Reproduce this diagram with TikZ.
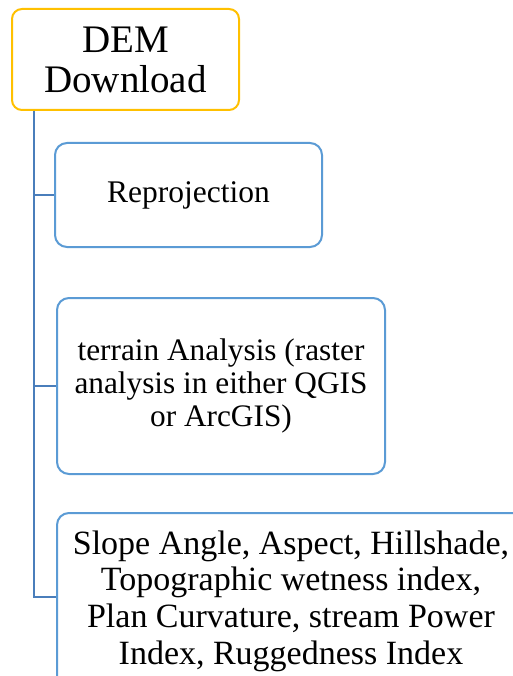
\documentclass[tikz,border=0pt]{standalone}
\usepackage{fontspec}
\setmainfont{Liberation Serif}
\definecolor{rootc}{HTML}{FFC000}
\definecolor{boxc}{HTML}{5B9BD5}
\definecolor{trunkc}{HTML}{4A7EBB}
\tikzset{
  rootbox/.style={draw=rootc, line width=2pt, rounded corners=10pt, fill=white,
    minimum width=227pt, minimum height=101pt, inner sep=0pt, align=center,
    font=\fontsize{39}{40}\selectfont},
  childbox/.style={draw=boxc, line width=2pt, rounded corners=12pt, fill=white,
    inner sep=0pt, align=center},
  trunk/.style={draw=trunkc, line width=2.4pt}
}
\begin{document}
\begin{tikzpicture}[x=1pt,y=-1pt]
\clip (0,0) rectangle (513,676);
\fill[white] (0,0) rectangle (513,676);
\node[rootbox] (dem) at (125.5,59.5) {DEM\\Download};
\node[childbox, minimum width=267pt, minimum height=104pt,
  font=\fontsize{31.5}{36}\selectfont] (repro) at (188.5,195) {\raisebox{-2pt}{Reprojection}};
\node[childbox, minimum width=328pt, minimum height=176pt,
  font=\fontsize{31.3}{33}\selectfont] (terrain) at (221,386)
  {terrain Analysis (raster\\analysis in either QGIS\\or ArcGIS)};
\node[childbox, minimum width=468pt, minimum height=176pt,
  font=\fontsize{34}{36.7}\selectfont] (slope) at (291,601)
  {Slope Angle, Aspect, Hillshade,\\Topographic wetness index,\\Plan Curvature, stream Power\\Index, Ruggedness Index};
\coordinate (top) at ([xshift=23pt]dem.south west);
\coordinate (slopein) at ([yshift=4pt]slope.west);
\draw[trunk] (top) |- (slopein);
\draw[trunk] (top) |- (repro.west);
\draw[trunk] (top) |- (terrain.west);
\end{tikzpicture}
\end{document}
